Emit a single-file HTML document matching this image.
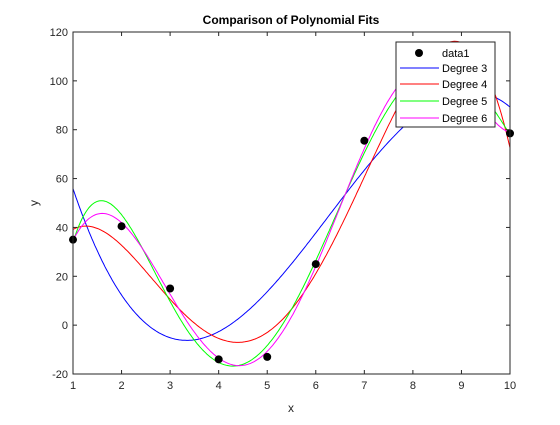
<!DOCTYPE html>
<html><head><meta charset="utf-8"><style>
body{margin:0;background:#fff;position:relative}
svg{font-family:"Liberation Sans",Arial,sans-serif;}
</style></head><body>
<svg id="c" width="560" height="420"></svg>
<script>
const xs=[1,2,3,4,5,6,7,8,9,10];
const ys=[35,40.5,15,-14,-13,25,75.5,100,102,78.5];
const degrees=[3,4,5,6];
const colors=['#0000ff','#ff0000','#00ff00','#ff00ff'];
const xTicks=[1,2,3,4,5,6,7,8,9,10];
const yTicks=[-20,0,20,40,60,80,100,120];
const L=73,R=510,T=32,B=374;
const sx=v=>L+(v-1)/9*(R-L);
const sy=v=>B-(v+20)/140*(B-T);
const NS='http://www.w3.org/2000/svg';
const svg=document.getElementById('c');
function mk(t,a,p){const e=document.createElementNS(NS,t);for(const k in a)e.setAttribute(k,a[k]);(p||svg).appendChild(e);return e;}
function fit(d){const n=d+1;const A=[];for(let i=0;i<n;i++){A.push(new Array(n+1).fill(0));}
 for(let k=0;k<xs.length;k++){const u=(xs[k]-5.5)/4.5;for(let i=0;i<n;i++){for(let j=0;j<n;j++)A[i][j]+=Math.pow(u,i+j);A[i][n]+=Math.pow(u,i)*ys[k];}}
 for(let i=0;i<n;i++){let p=i;for(let r=i+1;r<n;r++)if(Math.abs(A[r][i])>Math.abs(A[p][i]))p=r;[A[i],A[p]]=[A[p],A[i]];
  for(let r=0;r<n;r++){if(r===i)continue;const f=A[r][i]/A[i][i];for(let c=i;c<=n;c++)A[r][c]-=f*A[i][c];}}
 return A.map((row,i)=>row[n]/row[i]);}
mk('rect',{x:L,y:T,width:R-L,height:B-T,fill:'#fff',stroke:'none'});
const clip=mk('clipPath',{id:'cp'});mk('rect',{x:L,y:T,width:R-L,height:B-T},clip);
const g=mk('g',{'clip-path':'url(#cp)'});
degrees.forEach((d,i)=>{const c=fit(d);let pts=[];for(let s=0;s<=300;s++){const x=1+9*s/300;const u=(x-5.5)/4.5;let y=0;c.forEach((a,j)=>y+=a*Math.pow(u,j));pts.push(sx(x).toFixed(1)+','+sy(y).toFixed(1));}
 const pl=mk('polyline',{points:pts.join(' '),fill:'none',stroke:colors[i],'stroke-width':1},g);
 
 });
xs.forEach((x,i)=>{const c=mk('circle',{cx:sx(x),cy:sy(ys[i]),r:4,fill:'#000'});
 
 });
mk('rect',{x:L,y:T,width:R-L,height:B-T,fill:'none',stroke:'#262626','stroke-width':1});
xTicks.forEach(v=>{const x=sx(v);mk('line',{x1:x,y1:B,x2:x,y2:B-4,stroke:'#262626'});mk('line',{x1:x,y1:T,x2:x,y2:T+4,stroke:'#262626'});
 const t=mk('text',{x:x,y:B+15,'font-size':11,'text-anchor':'middle',fill:'#262626'});t.textContent=v;
 
 });
yTicks.forEach(v=>{const y=sy(v);mk('line',{x1:L,y1:y,x2:L+4,y2:y,stroke:'#262626'});mk('line',{x1:R,y1:y,x2:R-4,y2:y,stroke:'#262626'});
 const t=mk('text',{x:L-5,y:y+4,'font-size':11,'text-anchor':'end',fill:'#262626'});t.textContent=v;
 
 });
</script>
<svg width="560" height="420" style="position:absolute;left:0;top:0">
<text x="291" y="24" font-size="12" font-weight="bold" text-anchor="middle" fill="#000" font-family="Liberation Sans,sans-serif">Comparison of Polynomial Fits</text>
<text x="291" y="412" font-size="12" text-anchor="middle" fill="#262626" font-family="Liberation Sans,sans-serif">x</text>
<text x="38" y="203" font-size="12" text-anchor="middle" fill="#262626" font-family="Liberation Sans,sans-serif" transform="rotate(-90 38 203)">y</text>
<g font-family="Liberation Sans,sans-serif" font-size="11" fill="#000">
<rect x="396" y="42" width="99" height="85" fill="#fff" stroke="#262626" stroke-width="1"/>
<circle cx="419" cy="53" r="4" fill="#000"/><text x="442" y="57">data1</text>
<line x1="400" y1="68" x2="439" y2="68" stroke="#0000ff"/><text x="442" y="72">Degree 3</text>
<line x1="400" y1="84" x2="439" y2="84" stroke="#ff0000"/><text x="442" y="88">Degree 4</text>
<line x1="400" y1="101" x2="439" y2="101" stroke="#00ff00"/><text x="442" y="105">Degree 5</text>
<line x1="400" y1="118" x2="439" y2="118" stroke="#ff00ff"/><text x="442" y="122">Degree 6</text>
</g>
</svg>
</body></html>
